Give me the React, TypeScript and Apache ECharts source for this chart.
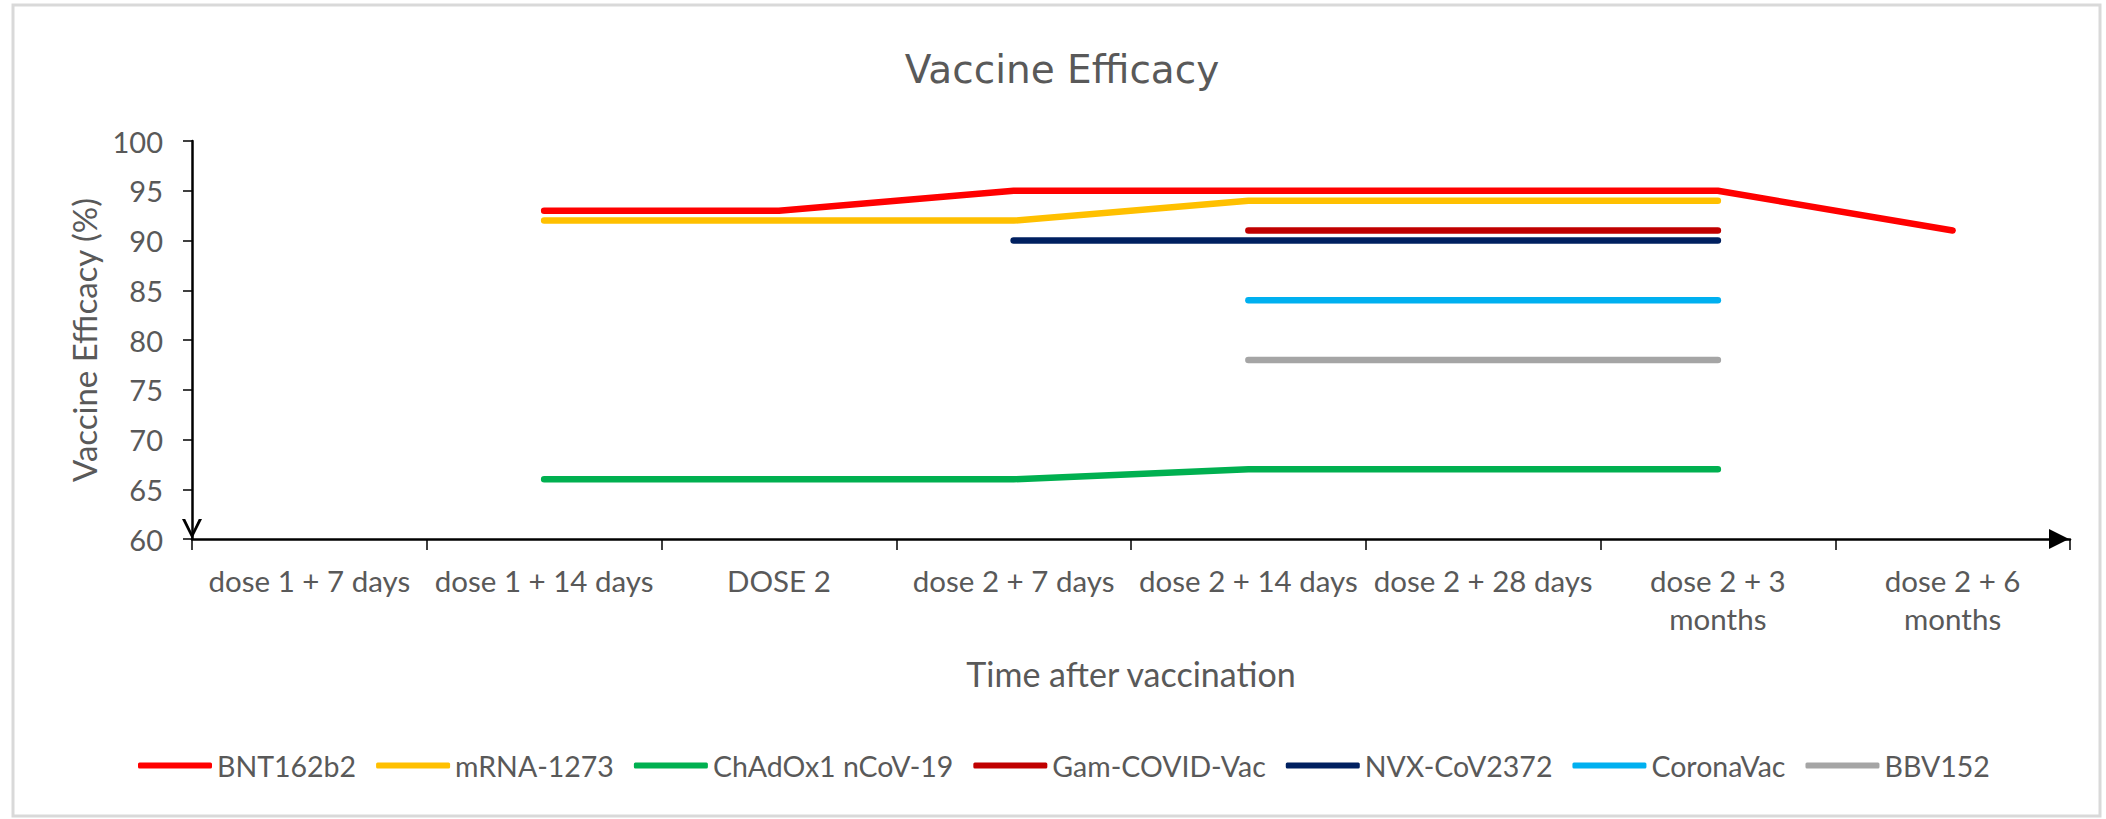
import React, { useEffect, useRef } from 'react';
import * as echarts from 'echarts';

const categories = [
  'dose 1 + 7 days',
  'dose 1 + 14 days',
  'DOSE 2',
  'dose 2 + 7 days',
  'dose 2 + 14 days',
  'dose 2 + 28 days',
  'dose 2 + 3 months',
  'dose 2 + 6 months',
];

const seriesNames = ['BNT162b2', 'mRNA-1273', 'ChAdOx1 nCoV-19', 'Gam-COVID-Vac', 'NVX-CoV2372', 'CoronaVac', 'BBV152'];
const seriesColors = ['#FF0000', '#FFC000', '#00B050', '#C00000', '#002060', '#00B0F0', '#A5A5A5'];

const bnt162b2 = [null, 93, 93, 95, 95, 95, 95, 91];
const mrna1273 = [null, 92, 92, 92, 94, 94, 94, null];
const chadox1 = [null, 66, 66, 66, 67, 67, 67, null];
const gamCovidVac = [null, null, null, null, 91, 91, 91, null];
const nvxCov2372 = [null, null, null, 90, 90, 90, 90, null];
const coronaVac = [null, null, null, null, 84, 84, 84, null];
const bbv152 = [null, null, null, null, 78, 78, 78, null];

const yMin = 60;
const yMax = 100;
const yInterval = 5;

const allSeries = [bnt162b2, mrna1273, chadox1, gamCovidVac, nvxCov2372, coronaVac, bbv152];

const GRAY = '#595959';
const chevron = 'path://M0,100 L50,0 L100,100 L84,100 L50,30 L16,100 Z';
const triangle = 'path://M50,0 L100,100 L0,100 Z';

export default function App() {
  const ref = useRef<HTMLDivElement>(null);
  useEffect(() => {
    document.body.style.margin = '0';
    const chart = echarts.init(ref.current as HTMLDivElement, null, { renderer: 'svg' });
    chart.setOption({
      animation: false,
      backgroundColor: '#ffffff',
      graphic: [
        {
          type: 'rect',
          shape: { x: 13, y: 5, width: 2087, height: 811 },
          style: { fill: 'none', stroke: '#D9D9D9', lineWidth: 3 },
          silent: true,
        },
      ],
      title: {
        text: 'Vaccine Efficacy',
        left: 1062,
        top: 50,
        padding: 0,
        textAlign: 'center',
        textStyle: { fontFamily: 'DejaVu Sans', fontSize: 39, fontWeight: 'normal', color: GRAY },
      },
      legend: {
        left: 138,
        top: 751,
        padding: 0,
        icon: 'roundRect',
        itemWidth: 74,
        itemHeight: 6,
        itemGap: 20,
        textStyle: { fontFamily: 'Lato', fontSize: 28.5, color: GRAY },
        data: seriesNames,
      },
      grid: { left: 192, right: 36, top: 141, bottom: 280, containLabel: false },
      xAxis: {
        type: 'category',
        data: categories,
        boundaryGap: true,
        axisLine: {
          show: true,
          lineStyle: { color: '#000', width: 2.5 },
          symbol: ['none', triangle],
          symbolSize: [20, 22],
          symbolOffset: [0, -11],
        },
        axisTick: { show: true, length: 11, lineStyle: { color: '#000', width: 1.5 } },
        axisLabel: {
          interval: 0,
          color: GRAY,
          fontFamily: 'Lato',
          fontSize: 29.5,
          lineHeight: 38,
          margin: 22,
          formatter: (v: string) => v.replace(/ months$/, '\nmonths'),
        },
        name: 'Time after vaccination',
        nameLocation: 'middle',
        nameGap: 117,
        nameTextStyle: { color: GRAY, fontFamily: 'Lato', fontSize: 34, lineHeight: 34 },
      },
      yAxis: {
        type: 'value',
        min: yMin,
        max: yMax,
        interval: yInterval,
        axisLine: {
          show: true,
          lineStyle: { color: '#000', width: 2.5 },
          symbol: [chevron, 'none'],
          symbolSize: [20, 20],
          symbolOffset: [10, 0],
        },
        axisTick: { show: true, length: 9, lineStyle: { color: '#000', width: 1.5 } },
        splitLine: { show: false },
        axisLabel: { color: GRAY, fontFamily: 'Lato', fontSize: 29, margin: 29 },
        name: 'Vaccine Efficacy (%)',
        nameLocation: 'middle',
        nameGap: 92,
        nameTextStyle: { color: GRAY, fontFamily: 'Lato', fontSize: 33, lineHeight: 33 },
      },
      series: allSeries.map((d, i) => ({
        name: seriesNames[i],
        type: 'line',
        data: d,
        symbol: 'none',
        connectNulls: false,
        color: seriesColors[i],
        lineStyle: { width: 6.5, color: seriesColors[i], cap: 'round', join: 'round' },
      })),
    });
    return () => chart.dispose();
  }, []);
  return <div ref={ref} style={{ width: 2106, height: 819 }} />;
}
